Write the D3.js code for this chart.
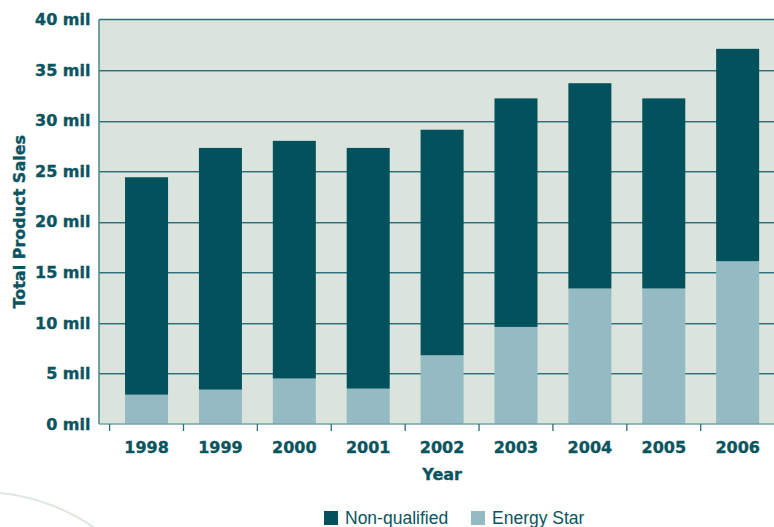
<!DOCTYPE html>
<html>
<head>
<meta charset="utf-8">
<script src="https://cdn.jsdelivr.net/npm/d3@7"></script>
<style>
  html, body { margin: 0; padding: 0; background: #ffffff; }
  svg { display: block; }
  .heavy {
    font-family: 'DejaVu Sans', sans-serif;
    font-weight: bold;
    stroke-width: 0.35px;
    paint-order: stroke;
  }
</style>
</head>
<body>
<script>
// Annual product sales (millions of units), split into Energy Star and non-qualified
const years = ["1998", "1999", "2000", "2001", "2002", "2003", "2004", "2005", "2006"];
const energyStar = [2.9, 3.4, 4.5, 3.5, 6.8, 9.6, 13.4, 13.4, 16.1];
const totalSales = [24.4, 27.3, 28.0, 27.3, 29.1, 32.2, 33.7, 32.2, 37.1];
const nonQualified = totalSales.map((t, i) => +(t - energyStar[i]).toFixed(1));
const yTicks = [0, 5, 10, 15, 20, 25, 30, 35, 40];
const seriesNames = ["Non-qualified", "Energy Star"];

const W = 774, H = 527;
const colors = {
  nonQualified: "#02515d",
  energyStar: "#94bac3",
  plotBg: "#dbe4dc",
  text: "#0a5460",
  grid: "#2b6f78",
  gridShadow: "#8fb0b0",
  axis: "#4c858e"
};

const plot = { left: 99, top: 19.5, right: 774, bottom: 424 };

const svg = d3.select("body").append("svg")
  .attr("width", W).attr("height", H);

// decorative arc in the lower-left corner
svg.append("circle")
  .attr("cx", -20).attr("cy", 692).attr("r", 200)
  .attr("fill", "none").attr("stroke", "#dfe7df").attr("stroke-width", 2);

const x = d3.scaleBand()
  .domain(years)
  .range([109.6, 774.6])
  .paddingInner(0.418)
  .paddingOuter(0.209);

const y = d3.scaleLinear()
  .domain([0, 40])
  .range([plot.bottom, plot.top]);

// plot background
svg.append("rect")
  .attr("x", plot.left).attr("y", plot.top)
  .attr("width", plot.right - plot.left).attr("height", plot.bottom - plot.top)
  .attr("fill", colors.plotBg);

// horizontal gridlines with a light shadow underneath
const grid = svg.append("g");
yTicks.filter(v => v > 0 && v < 40).forEach(v => {
  const yy = Math.round(y(v)) + 0.5;
  grid.append("line")
    .attr("x1", plot.left).attr("x2", plot.right)
    .attr("y1", yy + 1).attr("y2", yy + 1)
    .attr("stroke", colors.gridShadow).attr("stroke-width", 1);
  grid.append("line")
    .attr("x1", plot.left).attr("x2", plot.right)
    .attr("y1", yy).attr("y2", yy)
    .attr("stroke", colors.grid).attr("stroke-width", 1.2);
});

// stacked bars
const rows = years.map((yr, i) => ({ year: yr, energyStar: energyStar[i], nonQualified: nonQualified[i] }));
const stack = d3.stack().keys(["energyStar", "nonQualified"]);
const layers = stack(rows);

svg.append("g").selectAll("g")
  .data(layers)
  .join("g")
  .attr("fill", d => colors[d.key])
  .selectAll("rect")
  .data(d => d)
  .join("rect")
  .attr("x", d => x(d.data.year))
  .attr("width", x.bandwidth())
  .attr("y", d => y(d[1]))
  .attr("height", d => y(d[0]) - y(d[1]));

// top frame line
svg.append("line")
  .attr("x1", plot.left).attr("x2", plot.right)
  .attr("y1", plot.top).attr("y2", plot.top)
  .attr("stroke", colors.grid).attr("stroke-width", 1.5);

// left axis line
svg.append("line")
  .attr("x1", plot.left).attr("x2", plot.left)
  .attr("y1", plot.top).attr("y2", plot.bottom)
  .attr("stroke", colors.axis).attr("stroke-width", 1.5);

// bottom axis line
svg.append("line")
  .attr("x1", plot.left).attr("x2", plot.right)
  .attr("y1", plot.bottom).attr("y2", plot.bottom)
  .attr("stroke", "#79a3a8").attr("stroke-width", 1.5);

// y tick labels
const yAxis = d3.axisLeft(y)
  .tickValues(yTicks)
  .tickSize(0)
  .tickPadding(0)
  .tickFormat(d => d + " mil");
const gy = svg.append("g")
  .attr("transform", `translate(90.5,0)`)
  .call(yAxis);
gy.select(".domain").remove();
gy.selectAll("text")
  .attr("class", "heavy")
  .attr("fill", colors.text)
  .attr("stroke", colors.text)
  .style("font-size", "16px");

// x axis: ticks between bands, labels centred under bars
const step = x.step();
const boundaries = d3.range(years.length + 1).map(k => x.range()[0] + k * step);
svg.append("g").selectAll("line")
  .data(boundaries)
  .join("line")
  .attr("x1", d => d).attr("x2", d => d)
  .attr("y1", plot.bottom).attr("y2", plot.bottom + 7)
  .attr("stroke", colors.grid).attr("stroke-width", 1.3);

const xAxis = d3.axisBottom(x).tickSize(0).tickPadding(0);
const gx = svg.append("g")
  .attr("transform", `translate(0,${plot.bottom + 18})`)
  .call(xAxis);
gx.select(".domain").remove();
gx.selectAll("text")
  .attr("class", "heavy")
  .attr("fill", colors.text)
  .attr("stroke", colors.text)
  .style("font-size", "16px");

// axis titles
svg.append("text")
  .attr("class", "heavy")
  .attr("x", (x.range()[0] + x.range()[1]) / 2)
  .attr("y", 480)
  .attr("text-anchor", "middle")
  .attr("fill", colors.text)
  .attr("stroke", colors.text)
  .style("font-size", "16px")
  .text("Year");

svg.append("text")
  .attr("class", "heavy")
  .attr("transform", `translate(24.5,${(plot.top + plot.bottom) / 2}) rotate(-90)`)
  .attr("text-anchor", "middle")
  .attr("fill", colors.text)
  .attr("stroke", colors.text)
  .style("font-size", "16px")
  .text("Total Product Sales");

// legend
const legendItems = [
  { name: seriesNames[0], color: colors.nonQualified, x: 324 },
  { name: seriesNames[1], color: colors.energyStar, x: 471 }
];
const lg = svg.append("g").selectAll("g")
  .data(legendItems)
  .join("g")
  .attr("transform", d => `translate(${d.x},511)`);
lg.append("rect")
  .attr("width", 14).attr("height", 14)
  .attr("fill", d => d.color);
lg.append("text")
  .attr("x", 21).attr("y", 13)
  .attr("fill", colors.text)
  .style("font-family", "'Liberation Sans', Arial, sans-serif")
  .style("font-size", "17.5px")
  .text(d => d.name);
</script>
</body>
</html>
